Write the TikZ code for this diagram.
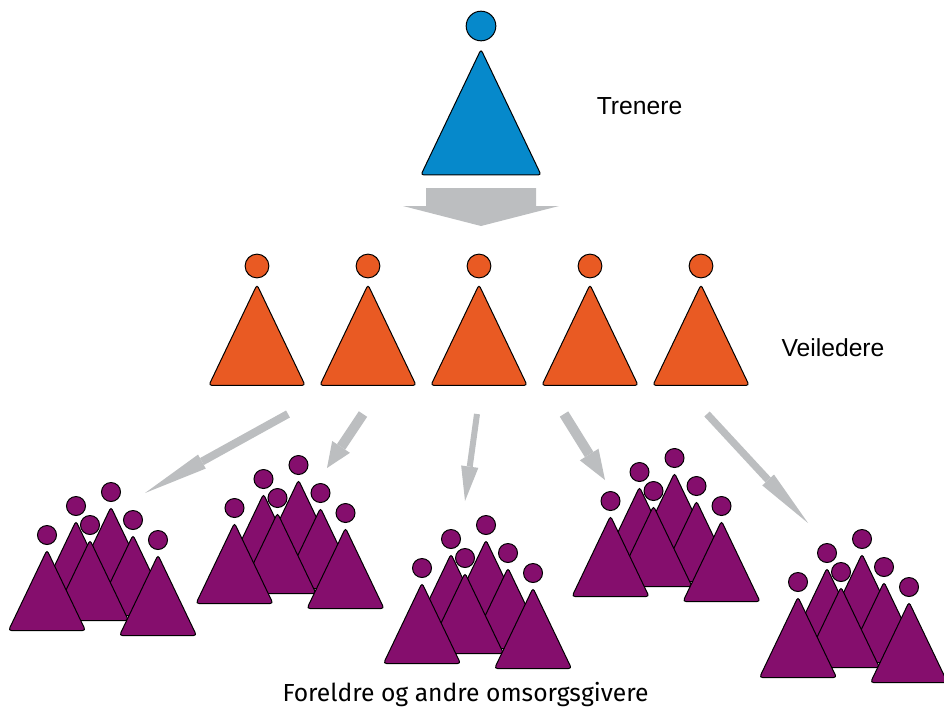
\documentclass[tikz,border=0pt]{standalone}
\usepackage{fontspec}
\setmainfont{Liberation Sans}
\newfontfamily\plexfont{Fira Sans}
\usetikzlibrary{positioning,arrows.meta}

\definecolor{trainerblue}{HTML}{0689CB}
\definecolor{guideorange}{HTML}{E95A23}
\definecolor{parentpurple}{HTML}{850E6D}
\definecolor{flowgray}{HTML}{BCBEC0}

\tikzset{
  pics/person/.style={code={
    \draw[line width=0.75pt,fill=#1,rounded corners=2.2pt] (-38.5,95.5) -- (0,15) -- (38.5,95.5) -- cycle;
    \node[circle,draw,line width=0.75pt,fill=#1,minimum size=14.25pt,inner sep=0pt,transform shape] (-head) at (0,0) {};
  }},
  flow/.style n args={3}{flowgray,line width=#1,-{Triangle[length=#2,width=#3,line width=0pt]}},
  caption/.style={font=\fontsize{18.5}{20}\selectfont,inner sep=0pt,anchor=base},
}

\begin{document}
\begin{tikzpicture}[x=0.75pt,y=-0.75pt]
  \useasboundingbox (0,0) rectangle (944,707);

  % top
  \pic[scale=1.56] (trainer) at (481,26) {person=trainerblue};
  \fill[flowgray] (426,188) -- (536,188) -- (536,206) -- (559,206) -- (481,226) -- (403,206) -- (426,206) -- cycle;
  \node[caption] (trenere) at (639.5,114.5) {Trenere};

  % middle row
  \foreach \gx [count=\i] in {257,368,479,590,701}
    \pic[scale=1.25] (guide\i) at (\gx,266) {person=guideorange};
  \node[caption] (veiledere) at (833,356) {Veiledere};

  % groups, each one a shifted copy of the first
  \foreach \sx/\sy [count=\g] in {0/0,187.5/-27,375/33,563.5/-34,751/47} {
    \begin{scope}[shift={(\sx,\sy)}]
      \pic (p\g b) at (76,506) {person=parentpurple};
      \pic (p\g c) at (111,492) {person=parentpurple};
      \pic (p\g d) at (133,520) {person=parentpurple};
      \pic (p\g e) at (90,525) {person=parentpurple};
      \pic (p\g a) at (47,535) {person=parentpurple};
      \pic (p\g f) at (158,540) {person=parentpurple};
    \end{scope}
  }
  \node[caption,font=\plexfont\fontsize{18.5}{20}\selectfont] (parents) at (465.5,701.5) {Foreldre og andre omsorgsgivere};

  % arrows from the guides to the groups
  \coordinate (from1) at (288,414);
  \coordinate (to1) at (145,493);
  \coordinate (from2) at (363,414);
  \coordinate (to2) at (327,468);
  \coordinate (from3) at (477,414);
  \coordinate (to3) at (465,501);
  \coordinate (from4) at (564,414);
  \coordinate (to4) at (605,480);
  \coordinate (from5) at (707,414);
  \coordinate (to5) at (808,523);
  \draw[flow={6pt}{48.75pt}{12pt}] (from1) -- (to1);
  \draw[flow={7.5pt}{19pt}{16pt}] (from2) -- (to2);
  \draw[flow={4.5pt}{26pt}{13pt}] (from3) -- (to3);
  \draw[flow={7.5pt}{22.5pt}{16.5pt}] (from4) -- (to4);
  \draw[flow={5.5pt}{44pt}{12pt}] (from5) -- (to5);
\end{tikzpicture}
\end{document}
